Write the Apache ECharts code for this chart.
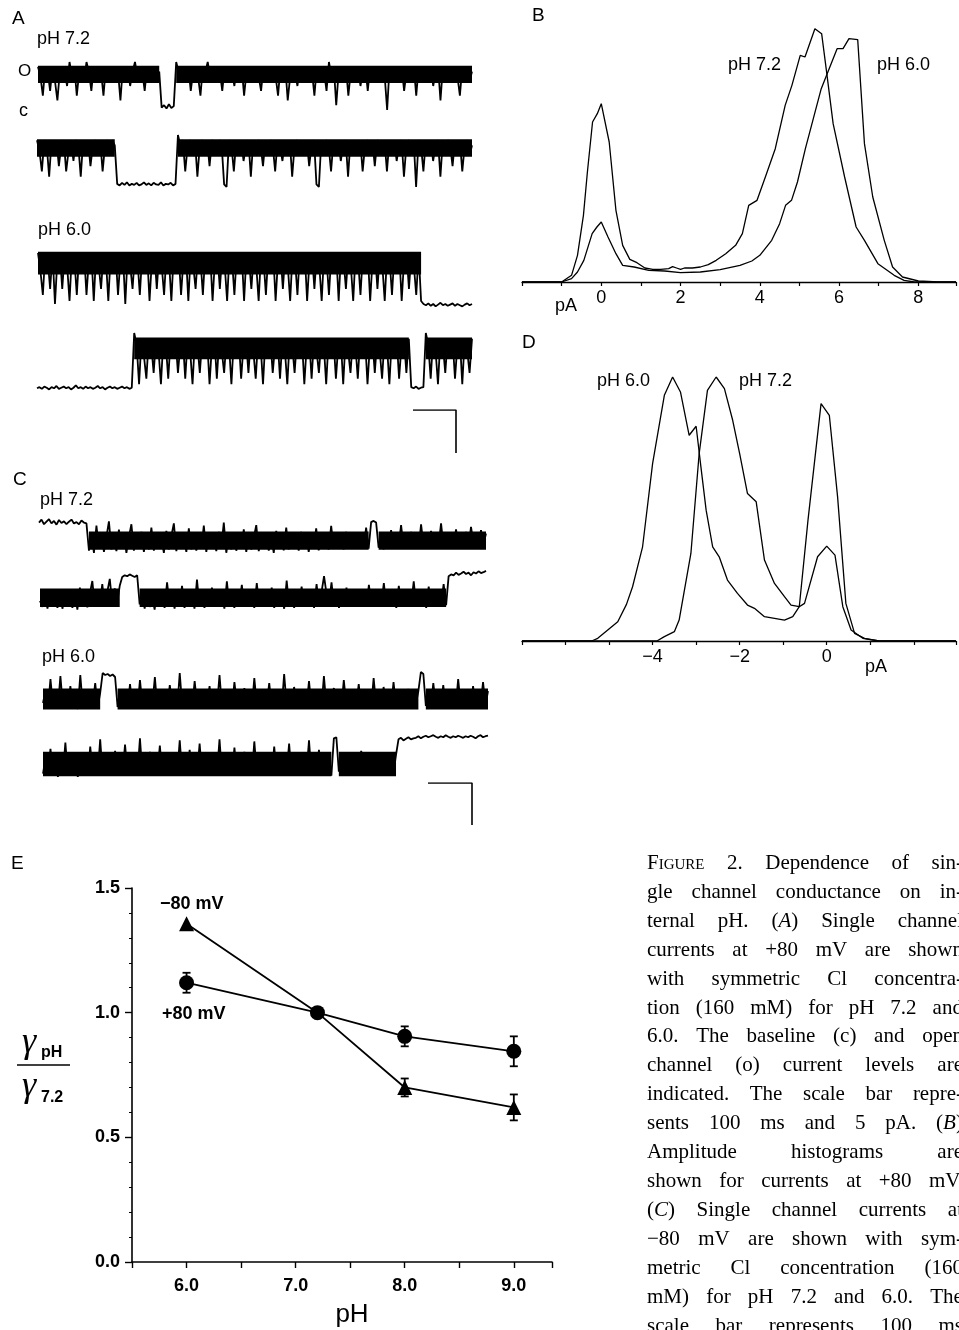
<!DOCTYPE html>
<html>
<head>
<meta charset="utf-8">
<title>Figure 2 - single channel conductance vs internal pH</title>
<script src="https://cdn.jsdelivr.net/npm/echarts@6/dist/echarts.min.js"></script>
<style>
html, body { margin: 0; padding: 0; background: #fff; overflow: hidden; }
#main { position: absolute; left: 0; top: 0; width: 959px; height: 1330px; }
#caption {
  position: absolute; left: 647px; top: 848px; width: 316px;
  font-family: "Liberation Serif", "DejaVu Serif", serif;
  font-size: 21px; line-height: 28.9px; color: #000;
}
#caption .ln { display: flex; justify-content: space-between; white-space: nowrap; }
.sc { font-variant: small-caps; }
</style>
</head>
<body>
<div id="main"></div>
<div id="caption"></div>
<script>
// ---------- A: currents at +80 mV, levels 0 (closed) .. 10 (open) ----------
const traceA72a = [
  9, 7, 3, 9, 8, 4, 9, 6, 2, 8,
  9, 8, 5, 10, 7, 9, 3, 8, 9, 6,
  10, 8, 4, 9, 7, 9, 8, 3, 9, 7,
  9, 6, 9, 8, 2, 9, 7, 9, 5, 8,
  10, 7, 9, 8, 4, 9, 6, 9, 8, 7,
  8, 0.5, 1, 0.3, 1.2, 0.4, 0.8, 10, 8, 6,
  9, 7, 9, 4, 8, 9, 7, 3, 9, 8,
  10, 7, 9, 6, 9, 8, 4, 9, 7, 9,
  8, 5, 9, 7, 9, 3, 8, 9, 6, 9,
  9, 7, 4, 9, 8, 9, 6, 9, 7, 3,
  9, 8, 9, 2, 7, 9, 8, 5, 9, 7,
  9, 6, 9, 8, 3, 9, 7, 9, 8, 4,
  10, 7, 9, 1, 8, 9, 6, 9, 3, 8,
  9, 7, 9, 5, 8, 9, 4, 9, 7, 9,
  8, 6, 9, 7, 0, 9, 8, 6, 9, 7,
  9, 4, 8, 9, 7, 9, 3, 9, 8, 6,
  9, 7, 9, 5, 8, 9, 2, 9, 7, 9,
  8, 6, 9, 7, 3, 9, 8, 9, 6, 8
]
const traceA72b = [
  9, 7, 3, 9, 8, 2, 9, 6, 9, 4,
  8, 9, 3, 7, 9, 5, 9, 8, 2, 9,
  7, 9, 4, 8, 9, 6, 9, 3, 8, 9,
  7, 9, 8, 0.6, 0.3, 0.8, 0.4, 0.9, 0.3, 0.6,
  0.4, 0.8, 0.3, 0.5, 0.9, 0.4, 0.7, 0.3, 0.8, 0.5,
  0.4, 0.9, 0.3, 0.6, 0.5, 0.8, 0.3, 0.6, 10, 8,
  9, 3, 8, 9, 6, 9, 2, 8, 9, 7,
  9, 4, 9, 8, 6, 9, 8, 0.5, 0, 9,
  8, 3, 9, 7, 9, 5, 8, 9, 2, 9,
  7, 9, 8, 4, 9, 6, 9, 8, 3, 9,
  8, 5, 9, 7, 9, 2, 8, 9, 6, 9,
  7, 9, 4, 8, 9, 0.5, 0, 9, 7, 9,
  8, 3, 9, 7, 9, 5, 8, 9, 2, 9,
  7, 9, 6, 9, 3, 8, 9, 7, 9, 4,
  9, 8, 6, 9, 3, 9, 7, 9, 5, 8,
  9, 2, 8, 9, 7, 9, 0, 9, 8, 3,
  9, 7, 9, 5, 8, 9, 2, 9, 7, 9,
  8, 4, 9, 7, 9, 3, 8, 9, 6, 8
]
const traceA60a = [
  9, 6, 2, 9, 8, 3, 9, 0.5, 8, 9,
  3, 9, 7, 1, 9, 8, 2, 9, 6, 9,
  2, 8, 9, 1, 9, 7, 3, 9, 8, 1,
  9, 6, 9, 2, 8, 9, 0.5, 9, 7, 3,
  9, 8, 2, 9, 6, 9, 1, 8, 9, 3,
  9, 7, 2, 9, 8, 1, 9, 6, 9, 2,
  8, 9, 1, 9, 7, 3, 9, 8, 2, 9,
  6, 9, 1, 8, 9, 3, 9, 7, 1, 9,
  8, 2, 9, 6, 9, 1, 9, 8, 3, 9,
  7, 1, 9, 8, 2, 9, 6, 9, 1, 8,
  9, 3, 9, 7, 1, 9, 8, 2, 9, 6,
  9, 1, 8, 9, 3, 9, 7, 1, 9, 8,
  2, 9, 6, 9, 1, 9, 8, 3, 9, 7,
  1, 9, 8, 2, 9, 6, 9, 1, 8, 9,
  3, 9, 7, 1, 9, 8, 2, 9, 6, 9,
  1, 8, 9, 3, 9, 7, 2, 9, 1, 0.5,
  0.3, 0.6, 0.2, 0.5, 0.1, 0.4, 0.7, 0.3, 0.5, 0.2,
  0.4, 0.6, 0.2, 0.5, 0.3, 0.1, 0.4, 0.6, 0.3, 0.5
]
const traceA60b = [
  0.3, 0.5, 0.2, 0.6, 0.4, 0.1, 0.5, 0.3, 0.7, 0.2,
  0.4, 0.6, 0.3, 0.5, 0.1, 0.4, 0.8, 0.3, 0.5, 0.2,
  0.6, 0.3, 0.5, 0.2, 0.4, 0.7, 0.3, 0.5, 0.1, 0.4,
  0.6, 0.3, 0.5, 0.2, 0.4, 0.6, 0.3, 0.5, 0.2, 0.4,
  10, 8, 1, 9, 6, 2, 9, 8, 3, 9,
  7, 1, 9, 8, 2, 9, 6, 9, 3, 8,
  9, 2, 9, 7, 1, 9, 8, 3, 9, 6,
  9, 1, 8, 9, 2, 9, 7, 3, 9, 8,
  1, 9, 6, 9, 2, 8, 9, 3, 9, 7,
  2, 9, 8, 1, 9, 6, 9, 3, 8, 9,
  2, 9, 7, 1, 9, 8, 3, 9, 6, 9,
  1, 8, 9, 2, 9, 7, 3, 9, 8, 1,
  9, 6, 9, 2, 8, 9, 1, 9, 7, 3,
  9, 8, 2, 9, 6, 9, 1, 8, 9, 3,
  9, 7, 2, 9, 8, 1, 9, 6, 9, 2,
  8, 9, 3, 9, 0.5, 0.3, 0.6, 0.2, 0.4, 0.5,
  10, 8, 2, 9, 7, 1, 9, 8, 3, 9,
  6, 9, 2, 8, 9, 1, 9, 7, 3, 9
]

// ---------- C: currents at -80 mV, closed level is the upper one ----------
const traceC72a = [
  8.2, 8.9, 7.8, 8.4, 9.0, 8.0, 8.6, 7.7, 8.8, 8.1,
  8.5, 7.8, 8.4, 8.9, 8.0, 8.3, 7.8, 8.7, 8.2, 8.0,
  1.5, 5.2, 1.0, 7.5, 2.0, 5.5, 1.2, 4.8, 8.5, 1.8,
  5.0, 1.4, 6.5, 2.0, 5.5, 1.0, 4.8, 7.8, 1.5, 5.2,
  2.0, 6.0, 1.2, 5.0, 1.8, 7.0, 1.5, 5.5, 2.2, 4.6,
  1.0, 6.2, 1.8, 5.0, 8.0, 1.4, 5.6, 2.0, 4.8, 1.2,
  6.8, 1.8, 5.2, 1.5, 4.6, 2.0, 7.5, 1.2, 5.4, 2.0,
  4.8, 1.4, 6.0, 2.2, 8.2, 1.0, 5.0, 1.8, 5.8, 1.5,
  4.5, 2.0, 6.6, 1.2, 5.2, 1.8, 4.6, 7.6, 1.4, 5.0,
  2.2, 5.6, 1.5, 4.8, 1.0, 6.2, 2.0, 5.0, 1.6, 7.0,
  1.8, 5.4, 2.4, 4.8, 1.5, 6.0, 2.0, 5.2, 1.2, 4.6,
  2.2, 6.8, 1.6, 5.0, 2.5, 4.4, 1.8, 7.4, 2.0, 5.6,
  2.4, 4.8, 1.8, 6.0, 2.6, 5.2, 2.0, 4.6, 2.2, 5.8,
  2.4, 7.0, 2.0, 8.3, 8.6, 8.2, 2.2, 5.2, 1.8, 4.8,
  2.6, 6.4, 2.0, 5.2, 2.8, 7.6, 2.2, 5.0, 2.4, 6.0,
  2.8, 5.4, 2.2, 7.8, 2.6, 5.0, 3.0, 6.2, 2.4, 5.2,
  2.8, 8.0, 2.4, 5.6, 3.0, 5.0, 2.6, 6.6, 2.8, 5.4,
  3.0, 6.0, 2.6, 7.2, 3.2, 5.4, 2.8, 6.4, 3.0, 5.6
]
const traceC72b = [
  3.0, 1.6, 4.8, 1.2, 5.2, 1.8, 4.6, 1.4, 5.6, 1.2,
  4.4, 2.0, 5.0, 1.4, 4.8, 1.0, 6.0, 1.8, 5.2, 1.5,
  4.6, 7.5, 1.8, 5.4, 2.2, 6.8, 1.6, 5.0, 8.0, 2.4,
  5.8, 2.6, 6.4, 8.4, 8.8, 8.6, 9.0, 8.7, 8.4, 8.8,
  2.2, 4.8, 1.2, 5.2, 1.6, 4.4, 1.0, 5.6, 1.8, 4.6,
  1.4, 7.2, 2.0, 5.0, 1.2, 4.8, 1.8, 6.4, 1.4, 5.0,
  2.0, 4.6, 1.2, 7.8, 1.8, 5.2, 1.4, 4.8, 2.0, 6.0,
  1.6, 5.0, 2.2, 4.6, 1.2, 7.4, 1.8, 5.2, 1.4, 4.8,
  2.0, 6.6, 1.6, 5.0, 2.4, 4.6, 1.4, 7.0, 2.0, 5.2,
  1.6, 4.8, 2.2, 6.0, 1.4, 5.0, 2.0, 4.4, 1.2, 7.6,
  1.8, 5.0, 1.4, 4.6, 2.0, 6.2, 1.6, 5.2, 2.2, 4.8,
  1.4, 6.8, 2.0, 5.0, 8.6, 4.6, 2.4, 7.2, 1.8, 5.0,
  1.4, 4.8, 2.0, 6.0, 1.6, 5.2, 2.2, 1.8, 4.6, 2.2,
  5.4, 1.6, 6.6, 2.2, 4.8, 1.8, 5.2, 2.4, 7.0, 1.6,
  5.0, 2.0, 4.6, 1.4, 6.4, 2.2, 5.0, 1.8, 4.8, 2.4,
  7.4, 1.6, 5.2, 2.0, 4.6, 1.4, 6.2, 2.2, 5.0, 1.8,
  4.8, 2.4, 6.8, 2.0, 8.6, 9.0, 8.8, 9.4, 8.9, 9.2,
  9.6, 9.1, 9.4, 8.8, 9.5, 9.2, 9.7, 9.3, 9.5, 9.8
]
const traceC60a = [
  3.0, 5.4, 2.0, 7.8, 2.6, 5.0, 2.2, 8.4, 2.4, 5.2,
  2.0, 6.4, 2.8, 4.8, 1.8, 8.6, 2.4, 5.4, 2.0, 4.6,
  2.6, 7.0, 2.2, 5.0, 9.0, 8.6, 8.8, 8.4, 8.7, 8.2,
  2.2, 5.4, 2.8, 4.8, 2.0, 6.8, 2.4, 5.2, 2.0, 7.6,
  2.6, 5.0, 2.2, 4.6, 2.8, 8.2, 2.0, 5.6, 2.4, 4.8,
  2.2, 6.6, 2.8, 5.0, 2.0, 9.0, 2.4, 5.2, 2.6, 4.8,
  2.0, 7.4, 2.6, 5.2, 2.2, 4.6, 2.8, 6.4, 2.0, 5.0,
  2.4, 8.6, 2.2, 5.4, 2.6, 4.8, 2.0, 7.2, 2.8, 5.0,
  2.2, 6.0, 2.4, 5.2, 2.0, 8.0, 2.6, 4.8, 2.2, 5.6,
  2.8, 7.0, 2.2, 5.0, 2.4, 4.6, 2.0, 8.8, 2.6, 5.2,
  2.2, 6.2, 2.8, 4.8, 2.0, 5.4, 2.4, 7.4, 2.2, 5.0,
  2.6, 5.6, 2.0, 8.4, 2.4, 4.8, 2.8, 6.0, 2.2, 5.2,
  2.0, 7.6, 2.6, 5.0, 2.2, 4.6, 2.8, 6.8, 2.0, 5.4,
  2.4, 5.0, 2.2, 8.0, 2.6, 4.8, 2.0, 6.2, 2.8, 5.0,
  2.2, 7.2, 2.4, 5.2, 2.0, 4.6, 2.6, 5.8, 2.2, 5.0,
  2.8, 5.4, 9.2, 8.8, 2.4, 5.0, 2.2, 7.0, 2.6, 4.8,
  2.0, 6.6, 2.4, 5.2, 2.8, 4.6, 2.2, 7.8, 2.6, 5.0,
  2.2, 5.6, 2.8, 6.4, 2.0, 5.0, 2.4, 7.2, 2.6, 5.4
]
const traceC60b = [
  1.6, 4.6, 1.2, 6.4, 1.8, 4.2, 1.0, 5.0, 1.4, 7.6,
  1.2, 4.8, 1.8, 4.0, 1.0, 5.6, 1.6, 4.4, 1.2, 6.8,
  1.8, 4.6, 1.4, 8.2, 1.2, 5.0, 1.8, 4.2, 1.4, 6.0,
  1.2, 4.8, 1.6, 7.2, 1.8, 4.4, 1.2, 5.2, 1.6, 8.4,
  1.4, 4.6, 1.8, 5.8, 1.2, 4.2, 1.6, 7.0, 1.4, 4.8,
  1.8, 5.4, 1.2, 4.4, 1.6, 8.0, 1.4, 4.6, 1.8, 6.2,
  1.2, 4.8, 1.6, 7.4, 1.4, 4.2, 1.8, 5.6, 1.2, 4.6,
  1.6, 8.2, 1.4, 4.8, 1.8, 5.2, 1.2, 6.6, 1.6, 4.4,
  1.4, 5.8, 1.8, 4.6, 1.2, 7.8, 1.6, 4.8, 1.4, 5.4,
  1.8, 4.4, 1.2, 6.8, 1.6, 4.6, 1.4, 5.0, 1.8, 7.4,
  1.2, 4.8, 1.6, 5.6, 1.4, 4.2, 1.8, 8.0, 1.2, 4.6,
  1.6, 6.2, 1.4, 4.8, 1.8, 5.0, 1.2, 8.4, 8.6, 2.0,
  5.2, 2.4, 4.6, 2.8, 5.0, 2.2, 4.4, 2.6, 6.0, 2.0,
  4.8, 2.6, 5.4, 1.8, 4.2, 2.2, 4.6, 1.6, 5.0, 1.4,
  4.4, 1.8, 5.2, 8.2, 8.5, 8.0, 8.3, 8.6, 8.2, 8.4,
  8.5, 8.8, 8.4, 8.7, 8.9, 8.6, 8.8, 9.0, 8.7, 8.5,
  8.8, 8.6, 9.0, 8.7, 8.5, 8.8, 8.6, 8.9, 8.7, 8.5,
  8.8, 8.6, 8.9, 8.7, 8.4, 8.8, 9.0, 8.6, 8.8, 8.9
]

// open-channel stretches [first sample, last sample] and the dense noise band [low, high]
const openA72a = [[0, 50], [57, 179]]
const openA72b = [[0, 32], [58, 179]]
const openA60a = [[0, 158]]
const openA60b = [[40, 153], [160, 179]]
const openC72a = [[20, 132], [136, 179]]
const openC72b = [[0, 32], [40, 163]]
const openC60a = [[0, 23], [30, 151], [154, 179]]
const openC60b = [[0, 116], [119, 142]]
const bandA72a = [5.6, 9.2]
const bandA72b = [5.8, 9.2]
const bandA60 = [5.4, 9.2]
const bandC72a = [1.7, 6.1]
const bandC72b = [1.6, 5.8]
const bandC60a = [1.7, 5.9]
const bandC60b = [1.1, 5.8]

// scale bars: 100 ms and 5 pA
const scaleBarMs = [0, 100, 100]
const scaleBarPa = [0, 0, -5]

// ---------- B: amplitude histograms at +80 mV, [pA, count] ----------
const histB72 = [
  [-2, 0], [-1.0, 0], [-0.75, 20], [-0.6, 80], [-0.45, 200], [-0.35, 330], [-0.22, 480],
  [-0.1, 505], [0, 535], [0.2, 420], [0.37, 215], [0.54, 110], [0.72, 68], [0.9, 58],
  [1.1, 42], [1.3, 38], [1.5, 38], [1.7, 40], [1.8, 46], [1.9, 42], [2.0, 38], [2.1, 42],
  [2.3, 42], [2.5, 45], [2.7, 52], [2.9, 65], [3.14, 85], [3.39, 110], [3.56, 145],
  [3.72, 230], [3.93, 245], [4.14, 315], [4.39, 400], [4.64, 530], [4.81, 590], [5.02, 680],
  [5.14, 675], [5.39, 760], [5.56, 745], [5.68, 635], [5.85, 475], [6.14, 315], [6.43, 165],
  [6.64, 125], [6.98, 55], [7.39, 20], [7.64, 5], [7.9, 0], [8.95, 0]
]
const histB60 = [
  [-2, 0], [-1.0, 0], [-0.75, 10], [-0.6, 30], [-0.44, 65], [-0.23, 145], [-0.11, 165],
  [0, 180], [0.17, 135], [0.37, 85], [0.54, 50], [0.83, 45], [1.2, 35], [1.6, 33],
  [2.0, 28], [2.5, 30], [3.0, 37], [3.5, 50], [3.8, 63], [4.0, 80], [4.3, 125], [4.5, 175],
  [4.65, 230], [4.8, 245], [4.95, 300], [5.15, 400], [5.35, 490], [5.55, 580], [5.75, 640],
  [5.95, 700], [6.1, 700], [6.25, 730], [6.47, 727], [6.64, 415], [6.85, 255], [7.14, 125],
  [7.35, 45], [7.6, 15], [8.0, 3], [8.5, 0], [8.95, 0]
]

// ---------- D: amplitude histograms at -80 mV ----------
const histD60 = [
  [-7, 0], [-5.4, 0], [-5.26, 8], [-5.03, 33], [-4.8, 58], [-4.6, 110], [-4.46, 163],
  [-4.23, 283], [-4.0, 533], [-3.73, 738], [-3.54, 793], [-3.36, 748], [-3.16, 618],
  [-3.0, 645], [-2.89, 523], [-2.77, 393], [-2.62, 283], [-2.47, 253], [-2.28, 183],
  [-2.05, 143], [-1.82, 108], [-1.66, 98], [-1.43, 73], [-1.2, 68], [-0.97, 63],
  [-0.78, 73], [-0.63, 103], [-0.51, 113], [-0.21, 253], [0, 285], [0.19, 258],
  [0.37, 103], [0.56, 33], [0.83, 8], [1.2, 0], [2.97, 0]
]
const histD72 = [
  [-7, 0], [-3.9, 0], [-3.73, 13], [-3.5, 28], [-3.39, 63], [-3.12, 263], [-2.93, 563],
  [-2.74, 753], [-2.54, 793], [-2.35, 758], [-2.16, 663], [-2.0, 563], [-1.82, 443],
  [-1.62, 418], [-1.43, 243], [-1.2, 173], [-0.97, 133], [-0.82, 108], [-0.63, 103],
  [-0.43, 363], [-0.13, 713], [0.06, 678], [0.25, 433], [0.44, 113], [0.64, 23],
  [0.87, 8], [1.2, 0], [2.97, 0]
]

// ---------- E: relative conductance vs pH ----------
const pHValues = [6.0, 7.2, 8.0, 9.0]
const ratioPlus80 = [1.12, 1.0, 0.905, 0.845]
const errPlus80 = [0.04, 0, 0.04, 0.06]
const ratioMinus80 = [1.357, 1.0, 0.70, 0.62]
const errMinus80 = [0, 0, 0.036, 0.052]

// words starting with ^ are set in small caps
const captionLines = [
  '^Figure 2. Dependence of sin-',
  'gle channel conductance on in-',
  'ternal pH. (<i>A</i>) Single channel',
  'currents at +80 mV are shown',
  'with symmetric Cl concentra-',
  'tion (160 mM) for pH 7.2 and',
  '6.0. The baseline (c) and open',
  'channel (o) current levels are',
  'indicated. The scale bar repre-',
  'sents 100 ms and 5 pA. (<i>B</i>)',
  'Amplitude histograms are',
  'shown for currents at +80 mV.',
  '(<i>C</i>) Single channel currents at',
  '\u221280 mV are shown with sym-',
  'metric Cl concentration (160',
  'mM) for pH 7.2 and 6.0. The',
  'scale bar represents 100 ms'
]

// caption text, justified word by word
const cap = document.getElementById('caption')
captionLines.forEach(line => {
  const div = document.createElement('div')
  div.className = 'ln'
  line.split(' ').forEach(w => {
    const s = document.createElement('span')
    if (w[0] === '^') {
      s.className = 'sc'
      w = w.slice(1)
    }
    s.innerHTML = w
    div.appendChild(s)
  })
  cap.appendChild(div)
})

const SANS = '"Liberation Sans", Arial, Helvetica, sans-serif'
const SERIF = '"Liberation Serif", "DejaVu Serif", serif'
const chart = echarts.init(document.getElementById('main'))

// trace panels, layout only
const traces = [
  { data: traceA72a, open: openA72a, band: bandA72a, left: 38, top: 62, width: 434, height: 48 },
  { data: traceA72b, open: openA72b, band: bandA72b, left: 37, top: 135, width: 435, height: 52 },
  { data: traceA60a, open: openA60a, band: bandA60, left: 38, top: 247, width: 434, height: 60 },
  { data: traceA60b, open: openA60b, band: bandA60, left: 37, top: 333, width: 435, height: 57 },
  { data: traceC72a, open: openC72a, band: bandC72a, left: 39, top: 515, width: 447, height: 42 },
  { data: traceC72b, open: openC72b, band: bandC72b, left: 40, top: 570, width: 446, height: 44 },
  { data: traceC60a, open: openC60a, band: bandC60a, left: 43, top: 668, width: 445, height: 50 },
  { data: traceC60b, open: openC60b, band: bandC60b, left: 43, top: 730, width: 445, height: 52 }
]

const grid = []
const xAxis = []
const yAxis = []
const series = []

// dense open-channel noise drawn as a filled band
function renderBand (params, api) {
  const p1 = api.coord([api.value(0), api.value(3)])
  const p2 = api.coord([api.value(1), api.value(2)])
  return {
    type: 'rect',
    shape: { x: p1[0], y: p1[1], width: p2[0] - p1[0], height: p2[1] - p1[1] },
    style: { fill: '#000' }
  }
}

traces.forEach((t, i) => {
  grid.push({ left: t.left, top: t.top, width: t.width, height: t.height })
  xAxis.push({ gridIndex: i, type: 'value', min: 0, max: t.data.length - 1, show: false })
  yAxis.push({ gridIndex: i, type: 'value', min: 0, max: 10, show: false })
  series.push({
    type: 'custom', xAxisIndex: i, yAxisIndex: i, silent: true, z: 1,
    renderItem: renderBand, encode: { x: [0, 1], y: [2, 3] },
    data: t.open.map(s => [s[0], s[1], t.band[0], t.band[1]])
  })
  series.push({
    type: 'line', xAxisIndex: i, yAxisIndex: i, symbol: 'none', silent: true, clip: false, z: 2,
    data: t.data.map((v, k) => [k, v]),
    lineStyle: { color: '#000', width: 1.8, join: 'bevel' }
  })
})

// scale bars
const bars = [
  { left: 413, top: 410, width: 43, height: 43 },
  { left: 428, top: 783, width: 44, height: 42 }
]
bars.forEach(b => {
  const i = grid.length
  grid.push(b)
  xAxis.push({ gridIndex: i, type: 'value', min: 0, max: 100, show: false })
  yAxis.push({ gridIndex: i, type: 'value', min: -5, max: 0, show: false })
  series.push({
    type: 'line', xAxisIndex: i, yAxisIndex: i, symbol: 'none', silent: true,
    data: scaleBarMs.map((v, k) => [v, scaleBarPa[k]]),
    lineStyle: { color: '#000', width: 1.6 }
  })
})

const histAxisStyle = {
  axisLine: { lineStyle: { color: '#000', width: 1.3 } },
  axisTick: { length: 4, lineStyle: { color: '#000', width: 1.2 } },
  splitLine: { show: false }
}

// B histogram
const gB = grid.length
grid.push({ left: 522, top: 28, width: 437, height: 254 })
xAxis.push(Object.assign({
  gridIndex: gB, type: 'value', min: -2, max: 8.95, interval: 1,
  axisLabel: {
    color: '#000', fontSize: 18, fontFamily: SANS, margin: 7,
    formatter: v => (v >= 0 && v % 2 === 0) ? String(v) : ''
  }
}, histAxisStyle))
yAxis.push({ gridIndex: gB, type: 'value', min: 0, max: 762, show: false })
;[histB72, histB60].forEach(d => series.push({
  type: 'line', xAxisIndex: gB, yAxisIndex: gB, symbol: 'none', silent: true, data: d,
  lineStyle: { color: '#000', width: 1.3 }
}))

// D histogram
const gD = grid.length
grid.push({ left: 522, top: 377, width: 437, height: 264 })
xAxis.push(Object.assign({
  gridIndex: gD, type: 'value', min: -7, max: 2.97, interval: 1,
  axisLabel: {
    color: '#000', fontSize: 18, fontFamily: SANS, margin: 7,
    formatter: v => (v === -4 || v === -2) ? '\u2212' + Math.abs(v) : (v === 0 ? '0' : '')
  }
}, histAxisStyle))
yAxis.push({ gridIndex: gD, type: 'value', min: 0, max: 793, show: false })
;[histD60, histD72].forEach(d => series.push({
  type: 'line', xAxisIndex: gD, yAxisIndex: gD, symbol: 'none', silent: true, data: d,
  lineStyle: { color: '#000', width: 1.3 }
}))

// E: conductance ratio
const gE = grid.length
grid.push({ left: 132, top: 888, width: 420, height: 374 })
const boldLabel = { color: '#000', fontSize: 18, fontWeight: 'bold', fontFamily: SANS }
xAxis.push({
  gridIndex: gE, type: 'value', min: 5.5, max: 9.35, interval: 0.5,
  axisLine: { lineStyle: { color: '#000', width: 1.6 } },
  axisTick: { length: 6, lineStyle: { color: '#000', width: 1.4 } },
  axisLabel: Object.assign({
    margin: 15,
    formatter: v => Math.abs(v - Math.round(v)) < 1e-6 ? v.toFixed(1) : ''
  }, boldLabel),
  splitLine: { show: false }
})
yAxis.push({
  gridIndex: gE, type: 'value', min: 0, max: 1.5, interval: 0.5,
  axisLine: { show: true, lineStyle: { color: '#000', width: 1.6 } },
  axisTick: { show: true, length: 7, lineStyle: { color: '#000', width: 1.4 } },
  minorTick: { show: true, splitNumber: 5, length: 3, lineStyle: { color: '#000', width: 1 } },
  axisLabel: Object.assign({ margin: 12, formatter: v => v.toFixed(1) }, boldLabel),
  splitLine: { show: false },
  minorSplitLine: { show: false }
})

function renderErrorBar (params, api) {
  const x = api.value(0)
  const y = api.value(1)
  const e = api.value(2)
  if (!e) return { type: 'group', children: [] }
  const hi = api.coord([x, y + e])
  const lo = api.coord([x, y - e])
  const w = 4
  const style = { stroke: '#000', lineWidth: 1.8 }
  return {
    type: 'group',
    children: [
      { type: 'line', shape: { x1: hi[0], y1: hi[1], x2: lo[0], y2: lo[1] }, style },
      { type: 'line', shape: { x1: hi[0] - w, y1: hi[1], x2: hi[0] + w, y2: hi[1] }, style },
      { type: 'line', shape: { x1: lo[0] - w, y1: lo[1], x2: lo[0] + w, y2: lo[1] }, style }
    ]
  }
}

series.push({
  type: 'custom', xAxisIndex: gE, yAxisIndex: gE, silent: true, z: 2,
  renderItem: renderErrorBar, encode: { x: 0, y: 1 },
  data: pHValues.map((x, i) => [x, ratioMinus80[i], errMinus80[i]])
})
series.push({
  type: 'custom', xAxisIndex: gE, yAxisIndex: gE, silent: true, z: 2,
  renderItem: renderErrorBar, encode: { x: 0, y: 1 },
  data: pHValues.map((x, i) => [x, ratioPlus80[i], errPlus80[i]])
})
// -80 mV (triangles); the pH 7.2 reference point is drawn by the circle
series.push({
  type: 'line', xAxisIndex: gE, yAxisIndex: gE, silent: true, z: 3,
  symbol: 'triangle', symbolSize: 15,
  data: pHValues.map((x, i) => x === 7.2
    ? { value: [x, ratioMinus80[i]], symbol: 'none' }
    : [x, ratioMinus80[i]]),
  lineStyle: { color: '#000', width: 1.8 },
  itemStyle: { color: '#000' }
})
// +80 mV (circles)
series.push({
  type: 'line', xAxisIndex: gE, yAxisIndex: gE, silent: true, z: 4,
  symbol: 'circle', symbolSize: 15,
  data: pHValues.map((x, i) => [x, ratioPlus80[i]]),
  lineStyle: { color: '#000', width: 1.8 },
  itemStyle: { color: '#000' }
})

// plain text labels
function txt (text, x, y, size, weight, align, family) {
  return {
    type: 'text', x: x, y: y, silent: true,
    style: {
      text: text,
      font: (weight || 'normal') + ' ' + size + 'px ' + (family || SANS),
      fill: '#000',
      align: align || 'left', textAlign: align || 'left',
      verticalAlign: 'middle', textVerticalAlign: 'middle'
    }
  }
}

const graphic = [
  txt('A', 12, 19, 19),
  txt('pH 7.2', 37, 39, 18),
  txt('O', 18, 71, 17),
  txt('c', 19, 111, 18),
  txt('pH 6.0', 38, 230, 18),
  txt('B', 532, 16, 19),
  txt('pH 7.2', 728, 65, 18),
  txt('pH 6.0', 877, 65, 18),
  txt('pA', 555, 306, 18),
  txt('C', 13, 480, 19),
  txt('pH 7.2', 40, 500, 18),
  txt('pH 6.0', 42, 657, 18),
  txt('D', 522, 343, 19),
  txt('pH 6.0', 597, 381, 18),
  txt('pH 7.2', 739, 381, 18),
  txt('pA', 865, 667, 18),
  txt('E', 11, 864, 19, 'lighter'),
  txt('\u221280 mV', 160, 904, 18, 'bold'),
  txt('+80 mV', 162, 1014, 18, 'bold'),
  txt('pH', 352, 1315, 26, 'normal', 'center'),
  // y label: gamma_pH over gamma_7.2
  txt('\u03b3', 22, 1043, 36, 'italic', 'left', SERIF),
  txt('pH', 41, 1053, 16, 'bold'),
  {
    type: 'line', silent: true,
    shape: { x1: 17, y1: 1065, x2: 70, y2: 1065 },
    style: { stroke: '#000', lineWidth: 1.6 }
  },
  txt('\u03b3', 22, 1087, 36, 'italic', 'left', SERIF),
  txt('7.2', 41, 1098, 16, 'bold')
]

chart.setOption({
  animation: false,
  backgroundColor: '#fff',
  grid: grid,
  xAxis: xAxis,
  yAxis: yAxis,
  series: series,
  graphic: graphic
})
</script>
</body>
</html>
